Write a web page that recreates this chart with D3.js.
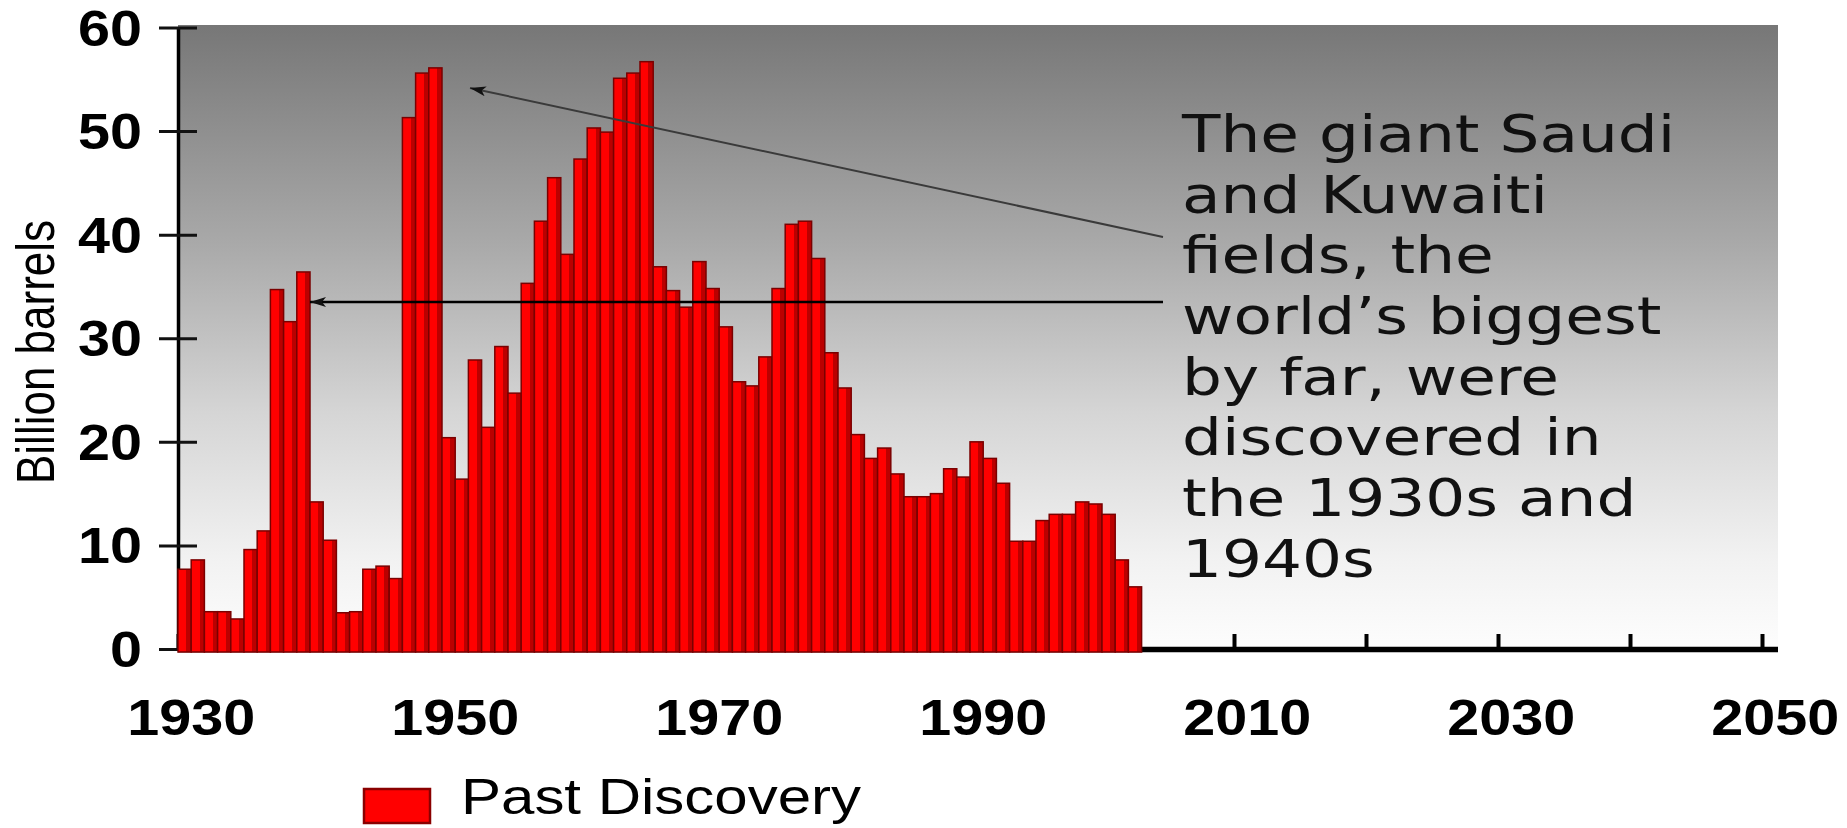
<!DOCTYPE html>
<html>
<head>
<meta charset="utf-8">
<script src="https://cdn.jsdelivr.net/npm/d3@7"></script>
<style>
  body { margin: 0; background: #fff; }
  svg { display: block; }
</style>
</head>
<body>
<svg id="chart" width="1847" height="828"></svg>
<script>
// yearly discoveries, billion barrels
var years = [1930, 1931, 1932, 1933, 1934, 1935, 1936, 1937, 1938, 1939,
             1940, 1941, 1942, 1943, 1944, 1945, 1946, 1947, 1948, 1949,
             1950, 1951, 1952, 1953, 1954, 1955, 1956, 1957, 1958, 1959,
             1960, 1961, 1962, 1963, 1964, 1965, 1966, 1967, 1968, 1969,
             1970, 1971, 1972, 1973, 1974, 1975, 1976, 1977, 1978, 1979,
             1980, 1981, 1982, 1983, 1984, 1985, 1986, 1987, 1988, 1989,
             1990, 1991, 1992, 1993, 1994, 1995, 1996, 1997, 1998, 1999,
             2000, 2001, 2002];
var discovery = [7.7, 8.6, 3.6, 3.6, 2.9, 9.6, 11.4, 34.7, 31.6, 36.4,
                 14.2, 10.5, 3.5, 3.6, 7.7, 8.0, 6.8, 51.3, 55.6, 56.1,
                 20.4, 16.4, 27.9, 21.4, 29.2, 24.7, 35.3, 41.3, 45.5, 38.1,
                 47.3, 50.3, 49.9, 55.1, 55.6, 56.7, 36.9, 34.6, 33.0, 37.4,
                 34.8, 31.1, 25.8, 25.4, 28.2, 34.8, 41.0, 41.3, 37.7, 28.6,
                 25.2, 20.7, 18.4, 19.4, 16.9, 14.7, 14.7, 15.0, 17.4, 16.6,
                 20.0, 18.4, 16.0, 10.4, 10.4, 12.4, 13.0, 13.0, 14.2, 14.0,
                 13.0, 8.6, 6.0];
var yTicks = [0, 10, 20, 30, 40, 50, 60];
var xTicks = [1930, 1940, 1950, 1960, 1970, 1980, 1990, 2000, 2010, 2020, 2030, 2040, 2050];
var xLabels = [1930, 1950, 1970, 1990, 2010, 2030, 2050];
var noteLines = ["The giant Saudi", "and Kuwaiti", "fields, the", "world\u2019s biggest",
                 "by far, were", "discovered in", "the 1930s and", "1940s"];
var legendLabel = "Past Discovery";
var yTitle = "Billion barrels";

var svg = d3.select("#chart");
var plotLeft = 178, plotRight = 1778, plotTop = 25, base = 649;
var SX = 1.2; // the original picture is stretched sideways

var x = d3.scaleLinear().domain([1930, 2050]).range([178, 1762]);
var y = d3.scaleLinear().domain([0, 60]).range([base, 27.5]);

var defs = svg.append("defs");
var bg = defs.append("linearGradient").attr("id", "bg")
    .attr("x1", 0).attr("y1", 0).attr("x2", 0).attr("y2", 1);
bg.append("stop").attr("offset", 0).attr("stop-color", "#777777");
bg.append("stop").attr("offset", 0.35).attr("stop-color", "#a9a9a9");
bg.append("stop").attr("offset", 0.62).attr("stop-color", "#d5d5d5");
bg.append("stop").attr("offset", 0.86).attr("stop-color", "#f2f2f2");
bg.append("stop").attr("offset", 1).attr("stop-color", "#fdfdfd");

var barFill = defs.append("linearGradient").attr("id", "barFill")
    .attr("x1", 0).attr("y1", 0).attr("x2", 1).attr("y2", 0);
barFill.append("stop").attr("offset", 0).attr("stop-color", "#ff0000");
barFill.append("stop").attr("offset", 0.64).attr("stop-color", "#ff0000");
barFill.append("stop").attr("offset", 0.64).attr("stop-color", "#bb0000");
barFill.append("stop").attr("offset", 1).attr("stop-color", "#bb0000");

defs.append("marker").attr("id", "head")
    .attr("markerUnits", "userSpaceOnUse")
    .attr("viewBox", "0 0 16 10")
    .attr("refX", 16).attr("refY", 5)
    .attr("markerWidth", 16).attr("markerHeight", 10)
    .attr("orient", "auto")
  .append("path").attr("d", "M0,0L16,5L0,10L4,5Z").attr("fill", "#111");

// plot background
svg.append("rect")
    .attr("x", plotLeft).attr("y", plotTop)
    .attr("width", plotRight - plotLeft).attr("height", base - plotTop)
    .attr("fill", "url(#bg)");

// x axis, ticks point up into the plot
var xAxis = d3.axisBottom(x).tickValues(xTicks).tickSizeInner(-15).tickSizeOuter(0).tickFormat("");
svg.append("g").attr("transform", "translate(0," + base + ")").call(xAxis)
    .call(function(g) { g.select(".domain").remove(); })
    .call(function(g) { g.selectAll(".tick line").attr("stroke", "#000").attr("stroke-width", 4); });
svg.append("line")
    .attr("x1", plotLeft).attr("x2", plotRight)
    .attr("y1", base + 0.5).attr("y2", base + 0.5)
    .attr("stroke", "#000").attr("stroke-width", 5.5);

svg.append("g").selectAll("text").data(xLabels).enter().append("text")
    .attr("transform", function(d) { return "translate(" + x(d + 1) + ",735) scale(1.15,1)"; })
    .attr("text-anchor", "middle")
    .style("font-family", "'Liberation Sans', Arial, sans-serif")
    .style("font-weight", "bold")
    .style("font-size", "50px")
    .attr("fill", "#000")
    .text(function(d) { return d; });

// y axis, ticks cross the line
var yAxis = d3.axisLeft(y).tickValues(yTicks).tickSizeOuter(0).tickFormat("");
svg.append("g").attr("transform", "translate(" + plotLeft + ",0)").call(yAxis)
    .call(function(g) { g.select(".domain").attr("stroke", "#000").attr("stroke-width", 3.5); })
    .call(function(g) {
      g.selectAll(".tick line").attr("x1", -19).attr("x2", 19)
        .attr("stroke", "#111").attr("stroke-width", 3);
    });

svg.append("g").selectAll("text").data(yTicks).enter().append("text")
    .attr("transform", function(d) { return "translate(142," + (y(d) + 18) + ") scale(1.15,1)"; })
    .attr("text-anchor", "end")
    .style("font-family", "'Liberation Sans', Arial, sans-serif")
    .style("font-weight", "bold")
    .style("font-size", "50px")
    .attr("fill", "#000")
    .text(function(d) { return d; });

svg.append("text")
    .attr("transform", "translate(54,352) scale(" + SX + ",1) rotate(-90)")
    .attr("text-anchor", "middle")
    .style("font-family", "'Liberation Sans', Arial, sans-serif")
    .style("font-size", "44px")
    .attr("fill", "#000")
    .text(yTitle);

// bars, one per year
var rows = years.map(function(yr, i) { return { year: yr, value: discovery[i] }; });
svg.append("g").selectAll("rect").data(rows).enter().append("rect")
    .attr("x", function(d) { return x(d.year); })
    .attr("width", function(d) { return x(d.year + 1) - x(d.year); })
    .attr("y", function(d) { return y(d.value); })
    .attr("height", function(d) { return y(0) - y(d.value) + 3; })
    .attr("fill", "url(#barFill)")
    .attr("stroke", "#7a0000")
    .attr("stroke-width", 1.5);

// annotation
var note = svg.append("g").attr("transform", "translate(1182,0) scale(1.21,1)");
note.selectAll("text").data(noteLines).enter().append("text")
    .attr("x", 0)
    .attr("y", function(d, i) { return 152 + i * 60.7; })
    .style("font-family", "'DejaVu Sans', Verdana, sans-serif")
    .style("font-size", "52px")
    .attr("fill", "#111")
    .text(function(d) { return d; });

svg.append("line")
    .attr("x1", 1163).attr("y1", 237).attr("x2", 470).attr("y2", 88)
    .attr("stroke", "#3a3a3a").attr("stroke-width", 2)
    .attr("marker-end", "url(#head)");
svg.append("line")
    .attr("x1", 1163).attr("y1", 302).attr("x2", 310).attr("y2", 302)
    .attr("stroke", "#000").attr("stroke-width", 2.5)
    .attr("marker-end", "url(#head)");

// legend
svg.append("rect")
    .attr("x", 364).attr("y", 789).attr("width", 66).attr("height", 34)
    .attr("fill", "#ff0000").attr("stroke", "#8a0000").attr("stroke-width", 2.5);
svg.append("text")
    .attr("transform", "translate(461,814) scale(" + SX + ",1)")
    .style("font-family", "'Liberation Sans', Arial, sans-serif")
    .style("font-size", "50px")
    .attr("fill", "#000")
    .text(legendLabel);
</script>
</body>
</html>
